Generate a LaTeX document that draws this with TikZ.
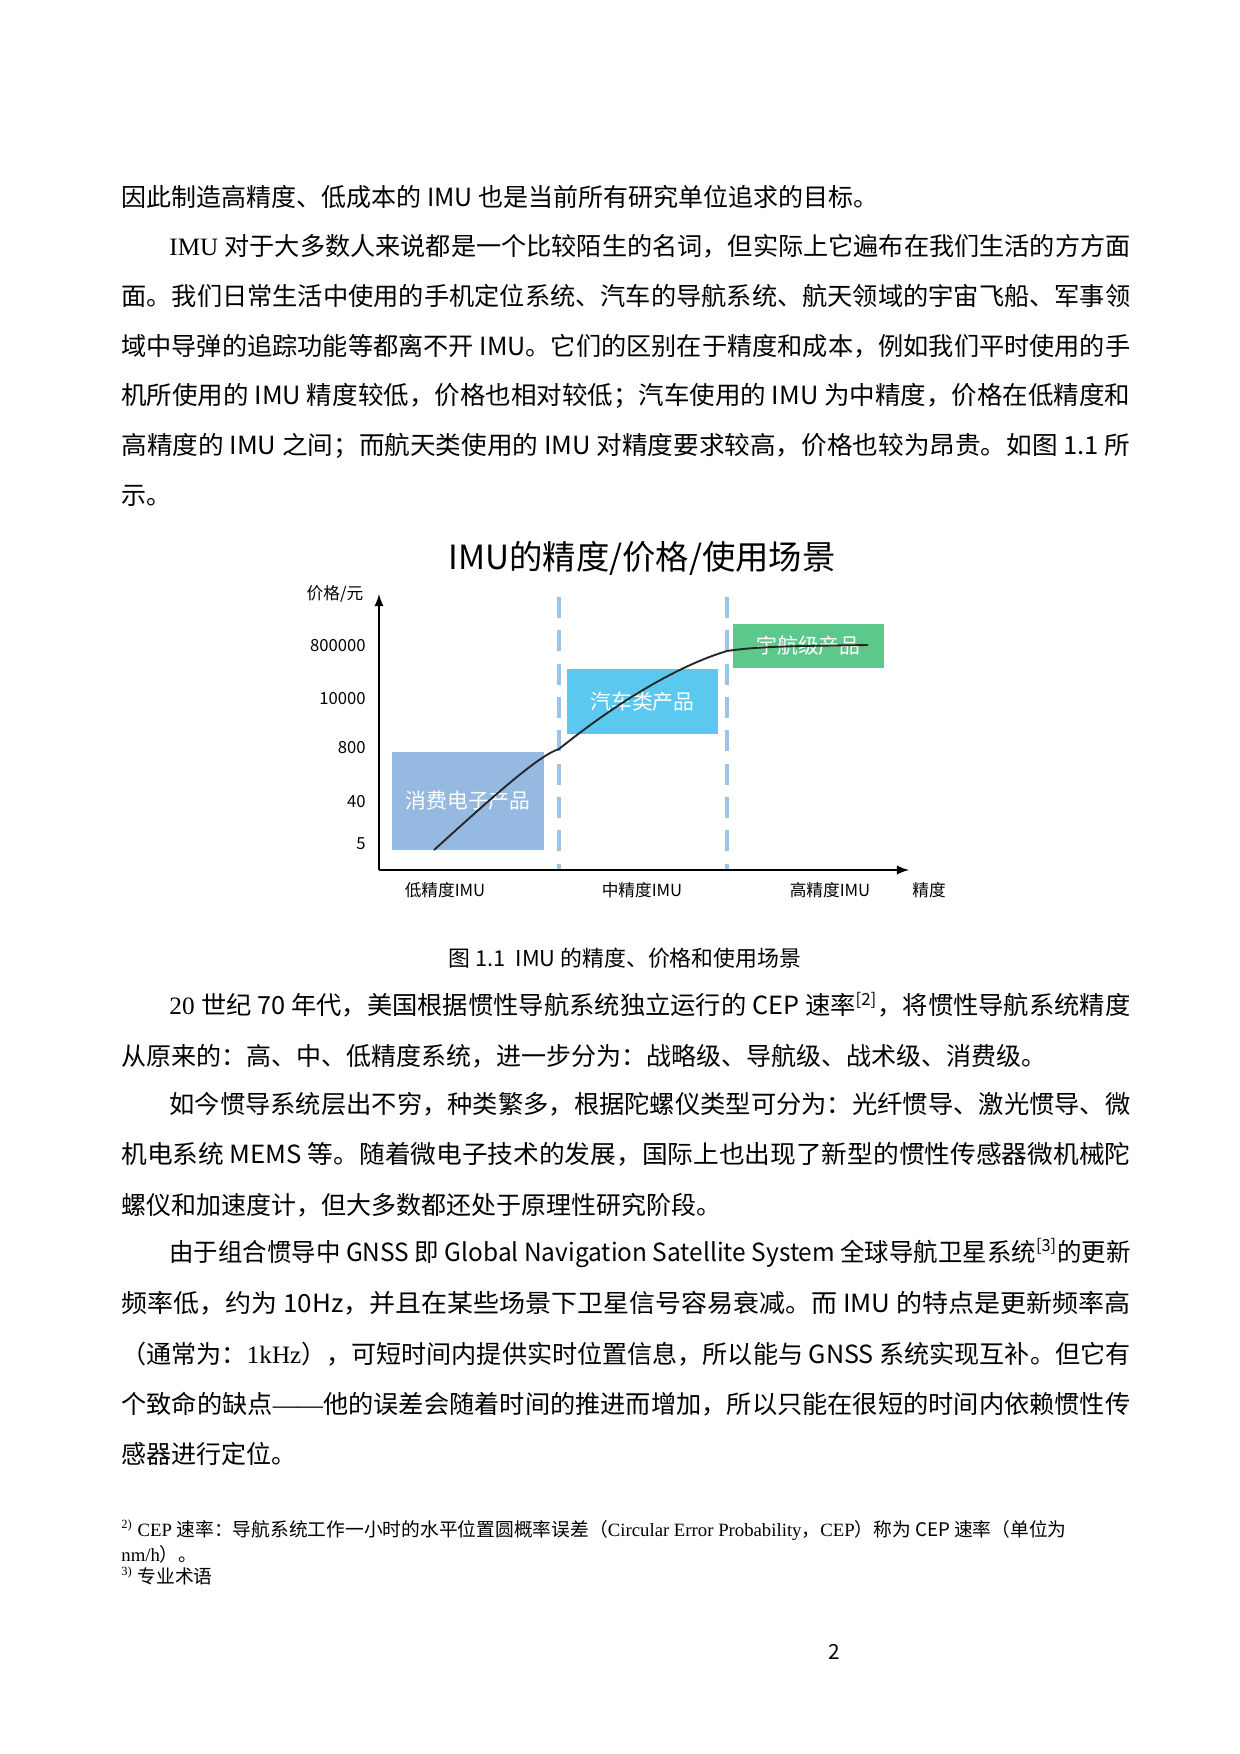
\documentclass[tikz,border=0pt]{standalone}
\usepackage{fontspec}
\setmainfont{Liberation Serif}
\newfontfamily\cjk{Noto Sans CJK SC}
\newfontfamily\latinf{Liberation Serif}
\newfontfamily\sansf{Noto Sans CJK SC}
\XeTeXinterchartokenstate=1
\newXeTeXintercharclass\cjkclass
\count255="4E00
\loop\XeTeXcharclass\count255=\cjkclass\ifnum\count255<"9FFF\advance\count255 1\repeat
\count255="3000
\loop\XeTeXcharclass\count255=\cjkclass\ifnum\count255<"303F\advance\count255 1\repeat
\count255="FF00
\loop\XeTeXcharclass\count255=\cjkclass\ifnum\count255<"FFEF\advance\count255 1\repeat
\XeTeXinterchartoks 0 \cjkclass={\cjk}
\XeTeXinterchartoks 4095 \cjkclass={\cjk}
\XeTeXinterchartoks \cjkclass 0={\latinf}
\definecolor{dashblue}{HTML}{9DC3E6}
\definecolor{boxA}{HTML}{95B9E0}
\definecolor{boxB}{HTML}{5BC8F0}
\definecolor{boxC}{HTML}{5CC88A}
\newcommand\fullA[1]{\resizebox{484.3pt}{\height}{#1}}
\newcommand\fullB[1]{\resizebox{461.3pt}{\height}{#1}}
\newcommand\chartfont{\XeTeXinterchartokenstate=0 \sansf}
\begin{document}
\begin{tikzpicture}[x=0.48pt,y=-0.48pt,
  body/.style={anchor=west,inner sep=0pt,font=\fontsize{12}{14}\selectfont},
  chartf/.style={inner sep=0pt,font=\chartfont\fontsize{#1}{#1}\selectfont},
  fn/.style={anchor=west,inner sep=0pt,font=\fontsize{9}{11}\selectfont}]
\useasboundingbox[fill=white] (0,0) rectangle (1240,1754);
% paragraph 1
\node[body] (l1) at (121,197) {因此制造高精度、低成本的 IMU 也是当前所有研究单位追求的目标。};
\node[body] (l2) at (169,246) {\fullB{IMU 对于大多数人来说都是一个比较陌生的名词，但实际上它遍布在我们生活的方方面}};
\node[body] (l3) at (121,296) {\fullA{面。我们日常生活中使用的手机定位系统、汽车的导航系统、航天领域的宇宙飞船、军事领}};
\node[body] (l4) at (121,346) {\fullA{域中导弹的追踪功能等都离不开 IMU。它们的区别在于精度和成本，例如我们平时使用的手}};
\node[body] (l5) at (121,396) {\fullA{机所使用的 IMU 精度较低，价格也相对较低；汽车使用的 IMU 为中精度，价格在低精度和}};
\node[body] (l6) at (121,446) {\fullA{高精度的 IMU 之间；而航天类使用的 IMU 对精度要求较高，价格也较为昂贵。如图 1.1 所}};
\node[body] (l7) at (121,496) {示。};
% chart
\node[chartf=16] (title) at (642,558) {IMU的精度/价格/使用场景};
\coordinate (O) at (379,870);
\coordinate (ytop) at (379,594);
\coordinate (xend) at (909,870);
\fill[boxA] (392,752) rectangle node[chartf=10,text=white] (tA) {消费电子产品} (544,850);
\fill[boxB] (567,669) rectangle node[chartf=10,text=white] (tB) {汽车类产品} (718,734);
\fill[boxC] (733,624) rectangle node[chartf=10,text=white] (tC) {宇航级产品} (884,668);
\draw[dashblue,line width=1.5pt,dash pattern=on 10pt off 6pt] (559,597) coordinate (d1t) -- (559,870) coordinate (d1b);
\draw[dashblue,line width=1.5pt,dash pattern=on 10pt off 6pt] (727,597) coordinate (d2t) -- (727,870) coordinate (d2b);
\draw[black!85,line width=0.9pt] (434,850) coordinate (c0) .. controls (500,790) and (540,755) .. (559,749) coordinate (c1)
  .. controls (620,700) and (680,665) .. (727,651) coordinate (c2)
  .. controls (760,646) and (800,646) .. (868,645) coordinate (c3);
\draw[line width=1pt,-latex] (O) -- (ytop);
\draw[line width=1pt,-latex] (O) -- (xend);
\node[chartf=8,anchor=center] (ylab) at (335,594) {价格/元};
\node[chartf=8,anchor=east] (t1) at (366,646) {800000};
\node[chartf=8,anchor=east] (t2) at (366,699) {10000};
\node[chartf=8,anchor=east] (t3) at (366,748) {800};
\node[chartf=8,anchor=east] (t4) at (366,802) {40};
\node[chartf=8,anchor=east] (t5) at (366,844) {5};
\node[chartf=8] (x1) at (445,890) {低精度IMU};
\node[chartf=8] (x2) at (642,890) {中精度IMU};
\node[chartf=8] (x3) at (830,890) {高精度IMU};
\node[chartf=8] (x4) at (929,890) {精度};
\node[inner sep=0pt,font=\fontsize{10.5}{12}\selectfont] (cap) at (625,958) {图 1.1\ \ IMU 的精度、价格和使用场景};
% paragraphs after
\node[body] (m1) at (169,1005) {\fullB{20 世纪 70 年代，美国根据惯性导航系统独立运行的 CEP 速率\textsuperscript{[2]}，将惯性导航系统精度}};
\node[body] (m2) at (121,1056) {从原来的：高、中、低精度系统，进一步分为：战略级、导航级、战术级、消费级。};
\node[body] (m3) at (169,1104) {\fullB{如今惯导系统层出不穷，种类繁多，根据陀螺仪类型可分为：光纤惯导、激光惯导、微}};
\node[body] (m4) at (121,1154) {\fullA{机电系统 MEMS 等。随着微电子技术的发展，国际上也出现了新型的惯性传感器微机械陀}};
\node[body] (m5) at (121,1205) {螺仪和加速度计，但大多数都还处于原理性研究阶段。};
\node[body] (m6) at (169,1253) {\fullB{由于组合惯导中 GNSS 即 Global Navigation Satellite System 全球导航卫星系统\textsuperscript{[3]}的更新}};
\node[body] (m7) at (121,1303) {\fullA{频率低，约为 10Hz，并且在某些场景下卫星信号容易衰减。而 IMU 的特点是更新频率高}};
\node[body] (m8) at (121,1354) {\fullA{（通常为：1kHz），可短时间内提供实时位置信息，所以能与 GNSS 系统实现互补。但它有}};
\node[body] (m9) at (121,1404) {\fullA{个致命的缺点——他的误差会随着时间的推进而增加，所以只能在很短的时间内依赖惯性传}};
\node[body] (m10) at (121,1454) {感器进行定位。};
% footnotes
\node[fn] (f1) at (121,1530) {\textsuperscript{2)} CEP 速率：导航系统工作一小时的水平位置圆概率误差（Circular Error Probability，CEP）称为 CEP 速率（单位为};
\node[fn] (f2) at (121,1554) {nm/h）。};
\node[fn] (f3) at (121,1576) {\textsuperscript{3)} 专业术语};
\node[inner sep=0pt,font=\sansf\fontsize{10}{12}\selectfont] (pg) at (834,1652) {2};
\end{tikzpicture}
\end{document}
